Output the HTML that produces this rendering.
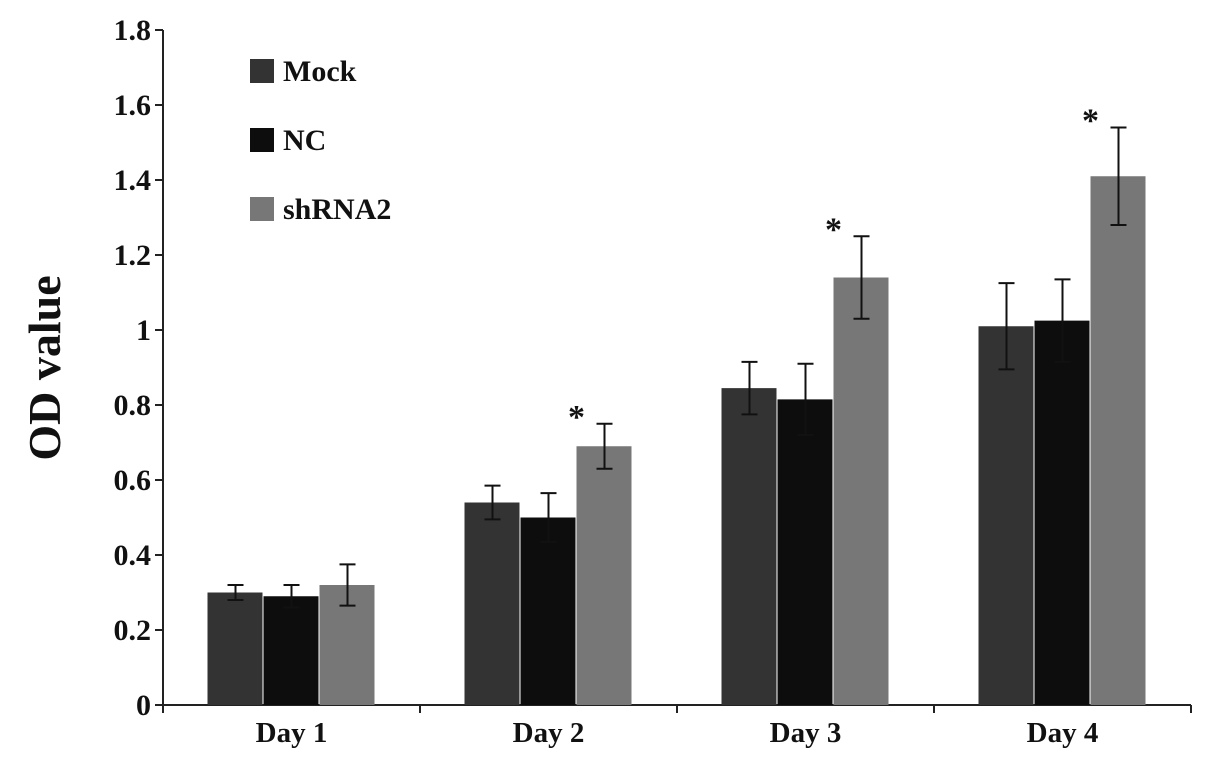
<!DOCTYPE html>
<html><head><meta charset="utf-8"><style>
html,body{margin:0;padding:0;background:#fff;}
svg text{font-family:"Liberation Serif",serif;font-weight:bold;fill:#111;}
</style></head><body>
<svg id="chart" width="1205" height="761" viewBox="0 0 1205 761" xmlns="http://www.w3.org/2000/svg">
<text transform="translate(60,368) rotate(-90)" text-anchor="middle" font-size="46">OD value</text>
<g id="axes"></g><g id="bars"></g>
<g>
<rect x="250" y="59" width="24" height="24" fill="#333"/>
<text x="283" y="81" font-size="30">Mock</text>
<rect x="250" y="128" width="24" height="24" fill="#0d0d0d"/>
<text x="283" y="150" font-size="30">NC</text>
<rect x="250" y="197" width="24" height="24" fill="#777"/>
<text x="283" y="219" font-size="30">shRNA2</text>
</g>
</svg>
<script>
const categories=["Day 1","Day 2","Day 3","Day 4"];
const mock=[0.30,0.54,0.845,1.01];
const nc=[0.29,0.50,0.815,1.025];
const shrna2=[0.32,0.69,1.14,1.41];
const mockErr=[0.02,0.045,0.07,0.115];
const ncErr=[0.03,0.065,0.095,0.11];
const shrna2Err=[0.055,0.06,0.11,0.13];
const significant=[false,true,true,true];
const yTicks=[0,0.2,0.4,0.6,0.8,1,1.2,1.4,1.6,1.8];

const NS="http://www.w3.org/2000/svg";
const x0=163,plotW=1028,y0=705,yTop=30,yMax=1.8;
const y=v=>y0-(v/yMax)*(y0-yTop);
const catW=plotW/categories.length;
const cx=i=>x0+catW*(i+0.5);
function mk(t,a,p){const e=document.createElementNS(NS,t);for(const k in a)e.setAttribute(k,a[k]);p.appendChild(e);return e;}
const axes=document.getElementById('axes'),bars=document.getElementById('bars');
const ya=mk('line',{x1:x0,y1:yTop,x2:x0,y2:y0,stroke:'#222','stroke-width':2},axes);


const xa=mk('line',{x1:x0,y1:y0,x2:x0+plotW,y2:y0,stroke:'#222','stroke-width':2},axes);


yTicks.forEach(t=>{
 const l=mk('line',{x1:x0-8,y1:y(t),x2:x0,y2:y(t),stroke:'#222','stroke-width':2},axes);
 
 
 const tx=mk('text',{x:x0-12,y:y(t)+10,'text-anchor':'end','font-size':30},axes);
 tx.textContent=String(t);
 
 
});
for(let i=0;i<=categories.length;i++){
 const l=mk('line',{x1:x0+catW*i,y1:y0,x2:x0+catW*i,y2:y0+8,stroke:'#222','stroke-width':2},axes);
 
 
}
const series=[[mock,mockErr,'#333','mock'],[nc,ncErr,'#0d0d0d','nc'],[shrna2,shrna2Err,'#777','shrna2']];
const bw=56;
categories.forEach((c,i)=>{
 const tx=mk('text',{x:cx(i),y:y0+37,'text-anchor':'middle','font-size':29},axes);
 tx.textContent=c;
 
 
 series.forEach((s,j)=>{
  const v=s[0][i],e=s[1][i],bx=cx(i)+(j-1.5)*bw;
  const r=mk('rect',{x:bx,y:y(v),width:bw-1,height:y0-y(v),fill:s[2]},bars);
  
  
  const m=bx+bw/2;
  const g=mk('path',{d:`M${m},${y(v+e)}V${y(v-e)}M${m-8},${y(v+e)}H${m+8}M${m-8},${y(v-e)}H${m+8}`,stroke:'#111','stroke-width':2,fill:'none'},bars);
  
  
 });
 if(significant[i]){
  const m=cx(i)+0.5*bw;
  const st=mk('text',{x:m,y:y(shrna2[i]+shrna2Err[i])+4,'text-anchor':'middle','font-size':34},bars);
  st.textContent='*';
  
  
 }
});
</script>
</body></html>
